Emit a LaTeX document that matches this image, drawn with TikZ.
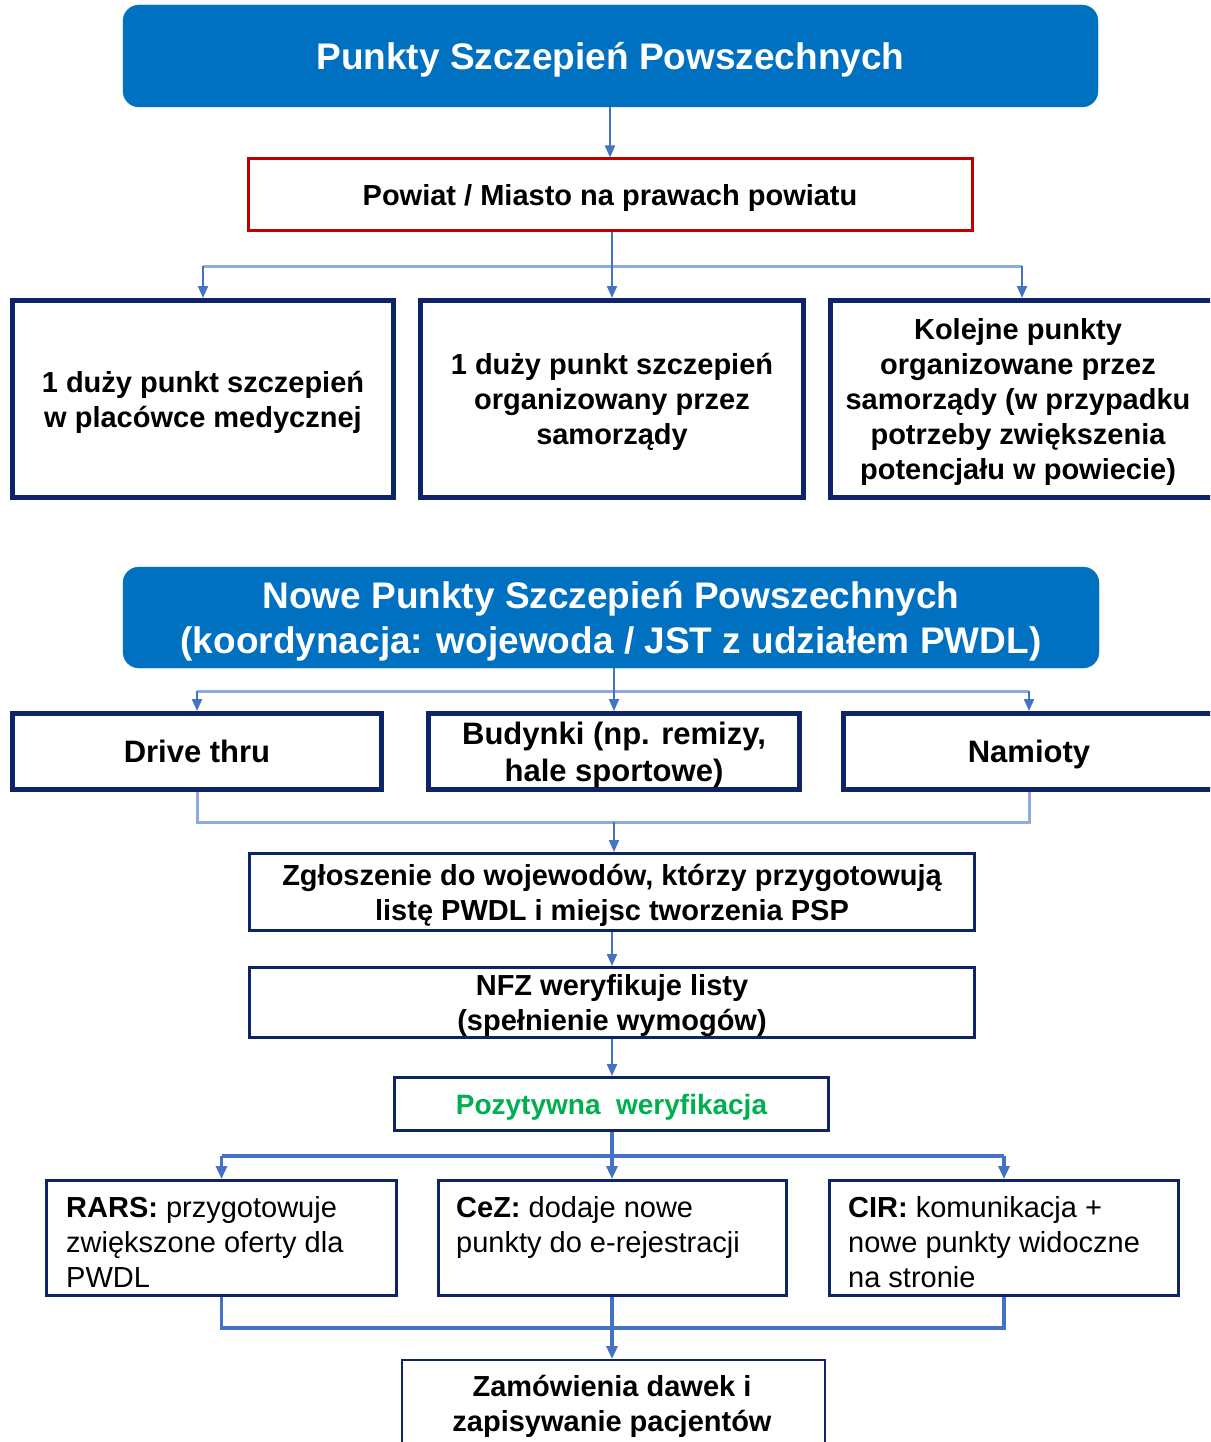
\documentclass[tikz,border=0pt]{standalone}
\usepackage{fontspec}
\setmainfont{Liberation Sans}
\usetikzlibrary{arrows.meta}
\definecolor{hdrblue}{HTML}{0070C0}
\definecolor{navy}{HTML}{0F2466}
\definecolor{boxred}{HTML}{C00000}
\definecolor{arrblue}{HTML}{4472C4}
\definecolor{lightbar}{HTML}{8FAADC}
\definecolor{okgreen}{HTML}{00B050}
\tikzset{
  hdr/.style={fill=hdrblue, draw=hdrblue, rounded corners=16pt, text=white, font=\bfseries\fontsize{37}{45}\selectfont, align=center, inner sep=0pt, text depth=0pt},
  thickbox/.style={draw=navy, line width=5pt, fill=white, align=center, inner sep=0pt, text depth=0pt, font=\bfseries\fontsize{29}{35}\selectfont},
  midbox/.style={draw=navy, line width=3pt, fill=white, align=center, inner sep=0pt, text depth=0pt, font=\bfseries\fontsize{29}{35}\selectfont},
  arr/.style={draw=arrblue, line width=2pt, -{Triangle[length=12pt,width=10pt]}},
  bar/.style={draw=lightbar, line width=3pt},
  arrb/.style={draw=arrblue, line width=3.5pt, -{Triangle[length=13pt,width=11pt]}},
  barb/.style={draw=arrblue, line width=3.5pt},
  lefttext/.style={anchor=north west, align=left, inner sep=0pt, font=\fontsize{29}{35}\selectfont},
}
\begin{document}
\begin{tikzpicture}[x=1pt,y=-1pt]
\clip (0,0) rectangle (1210,1442);
\fill[white] (0,0) rectangle (1210,1442);

% header 1
\node[hdr, minimum width=975pt, minimum height=102pt] (h1) at (610.5,56) {Punkty Szczepień Powszechnych};
\node[draw=boxred, line width=3pt, minimum width=724pt, minimum height=71pt, inner sep=0pt, text depth=0pt, font=\bfseries\fontsize{29}{35}\selectfont] (pow) at (610,194.5) {Powiat / Miasto na prawach powiatu};

% row 1
\node[thickbox, minimum width=381pt, minimum height=197pt] (r1a) at (203,399) {1 duży punkt szczepień\\w placówce medycznej};
\node[thickbox, minimum width=383pt, minimum height=197pt] (r1b) at (612,399) {1 duży punkt szczepień\\organizowany przez\\samorządy};
\node[thickbox, minimum width=383pt, minimum height=197pt] (r1c) at (1022,399) {};
\node[align=center, inner sep=0pt, text depth=0pt, font=\bfseries\fontsize{29}{35}\selectfont] (t1c) at (1018,399) {Kolejne punkty\\organizowane przez\\samorządy (w przypadku\\potrzeby zwiększenia\\potencjału w powiecie)};

\draw[arr] (h1.south -| pow.north) -- (pow.north);
\coordinate (j1) at (612,266);
\draw[bar] (r1a.north |- j1) -- (r1c.north |- j1);
\draw[arr] (pow.south -| r1b.north) -- (r1b.north);
\draw[arr] (r1a.north |- j1) -- (r1a.north);
\draw[arr] (r1c.north |- j1) -- (r1c.north);

% header 2
\node[hdr, minimum width=976pt, minimum height=101pt] (h2) at (611,617.5) {Nowe Punkty Szczepień Powszechnych\\(koordynacja: wojewoda / JST z udziałem PWDL)};

% row 2
\node[thickbox, minimum width=369pt, minimum height=76pt, font=\bfseries\fontsize{31}{37}\selectfont] (r2a) at (197,751.5) {Drive thru};
\node[thickbox, minimum width=371pt, minimum height=76pt, font=\bfseries\fontsize{31}{37}\selectfont] (r2b) at (614,751.5) {Budynki (np. remizy,\\hale sportowe)};
\node[thickbox, minimum width=371pt, minimum height=76pt, font=\bfseries\fontsize{31}{37}\selectfont] (r2c) at (1029,751.5) {Namioty};

\coordinate (j2) at (614,691);
\draw[bar] (r2a.north |- j2) -- (r2c.north |- j2);
\draw[arr] (h2.south -| r2b.north) -- (r2b.north);
\draw[arr] (r2a.north |- j2) -- (r2a.north);
\draw[arr] (r2c.north |- j2) -- (r2c.north);

% process
\node[midbox, minimum width=725pt, minimum height=77pt] (zg) at (612,892) {Zgłoszenie do wojewodów, którzy przygotowują\\listę PWDL i miejsc tworzenia PSP};
\node[midbox, minimum width=725pt, minimum height=70pt] (nfz) at (612,1002.5) {NFZ weryfikuje listy\\(spełnienie wymogów)};
\node[midbox, minimum width=434pt, minimum height=53pt, text=okgreen, font=\bfseries\fontsize{28}{35}\selectfont] (poz) at (611.5,1104) {Pozytywna\ \ weryfikacja};

\coordinate (j3) at (614,822);
\draw[bar] (r2a.south) -- (r2a.south |- j3) -- (r2c.south |- j3) -- (r2c.south);
\draw[arr] (j3) -- (j3 |- zg.north);
\draw[arr] (zg.south) -- (nfz.north);
\draw[arr] (nfz.south) -- (nfz.south |- poz.north);

% row 3
\node[midbox, minimum width=350pt, minimum height=115pt] (r3a) at (221.5,1238) {};
\node[midbox, minimum width=348pt, minimum height=115pt] (r3b) at (612.5,1238) {};
\node[midbox, minimum width=349pt, minimum height=115pt] (r3c) at (1004,1238) {};
\node[lefttext] (t3a) at (66,1196) {\textbf{RARS:} przygotowuje\\zwiększone oferty dla\\PWDL};
\node[lefttext] (t3b) at (456,1196) {\textbf{CeZ:} dodaje nowe\\punkty do e-rejestracji};
\node[lefttext] (t3c) at (848,1196) {\textbf{CIR:} komunikacja +\\nowe punkty widoczne\\na stronie};

\coordinate (j4) at (612,1156);
\draw[barb] (r3a.north |- j4) -- (r3c.north |- j4);
\draw[arrb] (j4 |- poz.south) -- (j4 |- r3b.north);
\draw[arrb] (r3a.north |- j4) -- (r3a.north);
\draw[arrb] (r3c.north |- j4) -- (r3c.north);

% final
\node[draw=navy, line width=2pt, fill=white, minimum width=423pt, minimum height=100pt, inner sep=0pt] (zam) at (613.5,1410) {};
\node[align=center, inner sep=0pt, text depth=0pt, font=\bfseries\fontsize{29}{35}\selectfont] (tzam) at (612,1403) {Zamówienia dawek i\\zapisywanie pacjentów};

\coordinate (j5) at (612,1328);
\draw[barb] (r3a.south) -- (r3a.south |- j5) -- (r3c.south |- j5) -- (r3c.south);
\draw[barb] (j5 |- r3b.south) -- (j5);
\draw[arrb] (j5) -- (zam.north -| j5);
\end{tikzpicture}
\end{document}
